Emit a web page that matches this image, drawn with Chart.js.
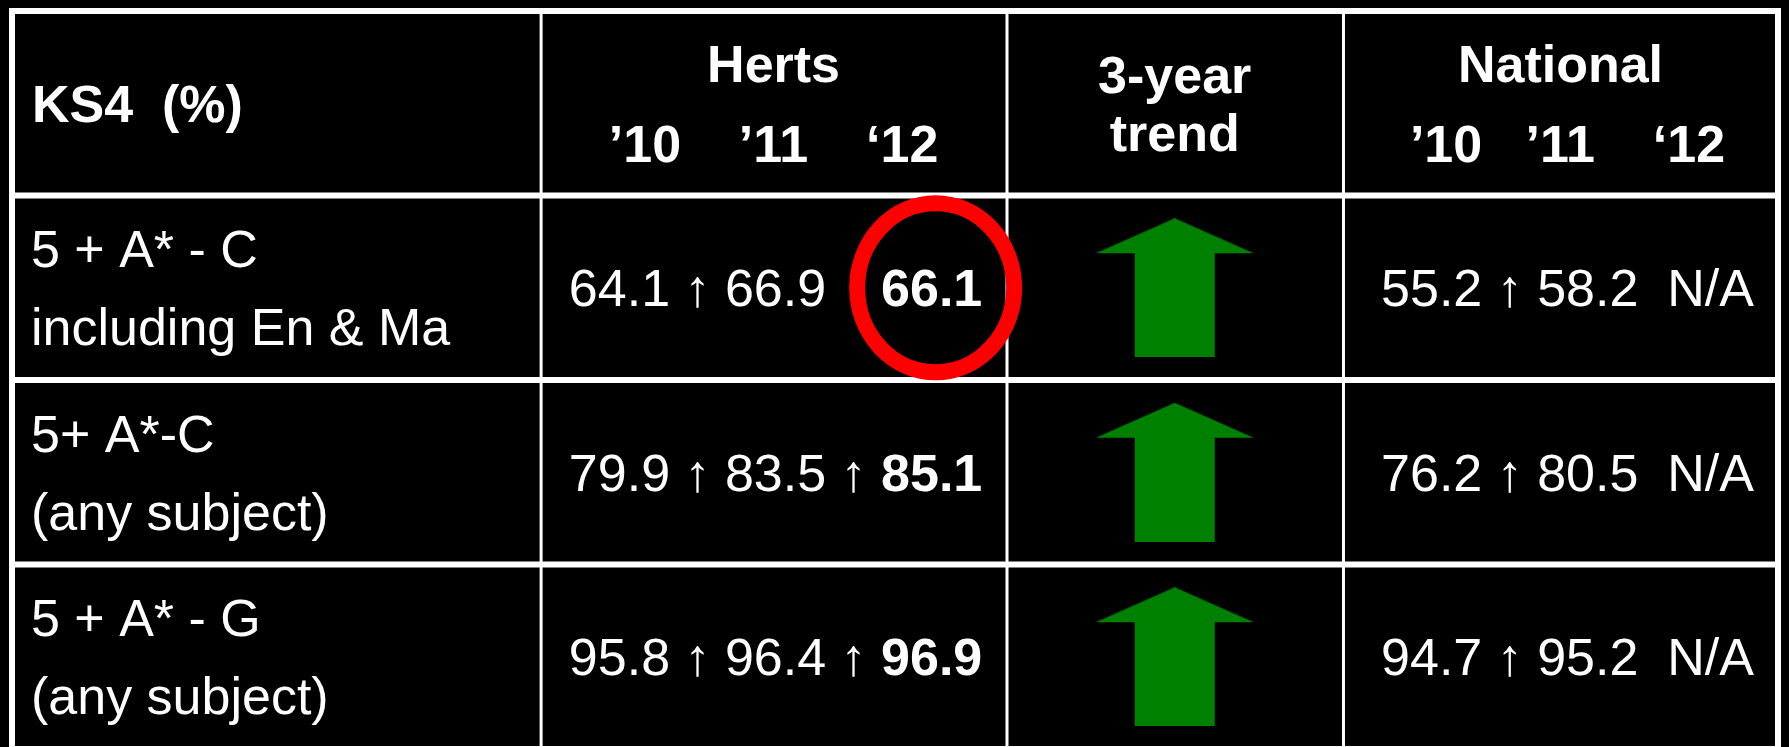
<!DOCTYPE html>
<html>
<head>
<meta charset="utf-8">
<title>KS4 (%)</title>
<script src="https://cdn.jsdelivr.net/npm/chart.js@4.4.0/dist/chart.umd.min.js"></script>
<style>
  html, body { margin: 0; padding: 0; background: #000; overflow: hidden; }
  #wrap { width: 1789px; height: 747px; overflow: hidden; }
</style>
</head>
<body>
<div id="wrap"><canvas id="chart" width="1789" height="760"></canvas></div>
<script>
// table content
const titleLabel = 'KS4  (%)';
const hertsLabel = 'Herts';
const trendLabel = ['3-year', 'trend'];
const nationalLabel = 'National';
const hertsYears = ['’10', '’11', '‘12'];
const nationalYears = ['’10', '’11', '‘12'];
const rowLabels = [
  ['5 + A* - C', 'including En & Ma'],
  ['5+ A*-C', '(any subject)'],
  ['5 + A* - G', '(any subject)']
];
const herts10 = [64.1, 79.9, 95.8];
const herts11 = [66.9, 83.5, 96.4];
const herts12 = [66.1, 85.1, 96.9];
const national10 = [55.2, 76.2, 94.7];
const national11 = [58.2, 80.5, 95.2];
const national12 = [null, null, null];   // not yet published
const trend = ['up', 'up', 'up'];
const circled = [true, false, false];    // Herts '12 value ringed in red

// layout
const colWidths = [531, 468, 338, 437];
const colEdges = colWidths.reduce((a, w) => { a.push(a[a.length - 1] + w); return a; }, [0]);
const rowCount = rowLabels.length + 1;
const FAMILY = '"Liberation Sans", Arial, Helvetica, sans-serif';
const SIZE = 52;
const CAP = SIZE * 0.358;   // half cap height, to centre text on a line

const font = bold => (bold ? 'bold ' : '') + SIZE + 'px ' + FAMILY;
const fmt = v => v.toFixed(1);
const upSeg = (a, b) => ({ text: ' ↑ ', hidden: !(b > a) });

// green trend arrow used as point style
const arrowImg = document.createElement('canvas');
arrowImg.width = 158;
arrowImg.height = 139;
(() => {
  const g = arrowImg.getContext('2d');
  g.fillStyle = '#008000';
  g.beginPath();
  g.moveTo(79, 0); g.lineTo(158, 35); g.lineTo(119, 35); g.lineTo(119, 139);
  g.lineTo(39, 139); g.lineTo(39, 35); g.lineTo(0, 35);
  g.closePath();
  g.fill();
})();

function drawSegments(ctx, segs, cx, base) {
  const widths = segs.map(s => { ctx.font = font(s.bold); return ctx.measureText(s.text).width; });
  const total = widths.reduce((a, b) => a + b, 0);
  let px = cx - total / 2;
  const spans = [];
  segs.forEach((s, i) => {
    ctx.font = font(s.bold);
    if (!s.hidden) ctx.fillText(s.text, px, base);
    spans.push([px, px + widths[i]]);
    px += widths[i];
  });
  return spans;
}

const tablePlugin = {
  id: 'table',
  beforeDatasetsDraw(chart) {
    const { ctx, scales: { x, y } } = chart;
    const colX = i => x.getPixelForValue(colEdges[i]);
    const colMid = i => (colX(i) + colX(i + 1)) / 2;
    const rowMid = r => y.getPixelForValue(r + 0.5);
    ctx.save();

    // cell borders
    ctx.strokeStyle = '#ffffff';
    ctx.lineWidth = 6;
    for (let r = 0; r <= rowCount; r++) {
      const py = y.getPixelForValue(r);
      ctx.beginPath();
      ctx.moveTo(colX(0) - 3, py);
      ctx.lineTo(colX(colEdges.length - 1) + 3, py);
      ctx.stroke();
    }
    colEdges.forEach((e, i) => {
      const outer = i === 0 || i === colEdges.length - 1;
      const px = x.getPixelForValue(e) + (outer ? 0 : 0.5);
      ctx.lineWidth = outer ? 6 : 3;
      ctx.beginPath();
      ctx.moveTo(px, y.getPixelForValue(0));
      ctx.lineTo(px, y.getPixelForValue(rowCount));
      ctx.stroke();
    });

    ctx.fillStyle = '#ffffff';
    ctx.textBaseline = 'alphabetic';
    ctx.textAlign = 'left';

    // header row
    const h = rowMid(0);
    ctx.font = font(true);
    ctx.fillText(titleLabel, colX(0) + 20, h + CAP);
    drawSegments(ctx, [{ text: hertsLabel, bold: true }], colMid(1), h - 40 + CAP);
    drawSegments(ctx, [{ text: hertsYears.join('    '), bold: true }], colMid(1), h + 40 + CAP);
    drawSegments(ctx, [{ text: trendLabel[0], bold: true }], colMid(2), h - 29 + CAP);
    drawSegments(ctx, [{ text: trendLabel[1], bold: true }], colMid(2), h + 29 + CAP);
    drawSegments(ctx, [{ text: nationalLabel, bold: true }], colMid(3), h - 40 + CAP);
    drawSegments(ctx, [{ text: nationalYears[0] + '   ' + nationalYears[1] + '    ' + nationalYears[2], bold: true }], colMid(3) + 7, h + 40 + CAP);

    // body rows
    this.rings = [];
    rowLabels.forEach((lab, i) => {
      const m = rowMid(i + 1);
      ctx.font = font(false);
      ctx.fillText(lab[0], colX(0) + 19, m - 39 + CAP);
      ctx.fillText(lab[1], colX(0) + 19, m + 39 + CAP);

      const hs = drawSegments(ctx, [
        { text: fmt(herts10[i]) }, upSeg(herts10[i], herts11[i]),
        { text: fmt(herts11[i]) }, upSeg(herts11[i], herts12[i]),
        { text: fmt(herts12[i]), bold: true }
      ], colMid(1) + 2, m + CAP);
      if (circled[i]) this.rings.push({ cx: (hs[4][0] + hs[4][1]) / 2 + 4, cy: m });

      const natSegs = [{ text: fmt(national10[i]) }, upSeg(national10[i], national11[i]), { text: fmt(national11[i]) }];
      if (national12[i] == null) natSegs.push({ text: '  N/A' });
      else natSegs.push(upSeg(national11[i], national12[i]), { text: fmt(national12[i]) });
      drawSegments(ctx, natSegs, colMid(3) + 7, m + CAP);
    });
    ctx.restore();
  },
  afterDatasetsDraw(chart) {
    const { ctx } = chart;
    ctx.save();
    ctx.strokeStyle = '#ff0000';
    ctx.lineWidth = 16;
    (this.rings || []).forEach(r => {
      ctx.beginPath();
      ctx.ellipse(r.cx, r.cy, 78.5, 84.5, 0, 0, Math.PI * 2);
      ctx.stroke();
    });
    ctx.restore();
  }
};

new Chart(document.getElementById('chart'), {
  type: 'scatter',
  data: {
    datasets: [{
      label: '3-year trend',
      data: trend.map((t, i) => ({ x: (colEdges[2] + colEdges[3]) / 2, y: i + 1.5 })),
      pointStyle: arrowImg,
      pointRadius: 10,
      pointRotation: trend.map(t => (t === 'up' ? 0 : 180)),
      showLine: false
    }]
  },
  options: {
    responsive: false,
    animation: false,
    devicePixelRatio: 1,
    layout: { padding: { left: 12, right: 3, top: 8, bottom: 6 } },
    plugins: { legend: { display: false }, tooltip: { enabled: false } },
    scales: {
      x: { type: 'linear', display: false, min: 0, max: colEdges[colEdges.length - 1] },
      y: { type: 'linear', display: false, min: 0, max: rowCount, reverse: true }
    }
  },
  plugins: [tablePlugin]
});
</script>
</body>
</html>
